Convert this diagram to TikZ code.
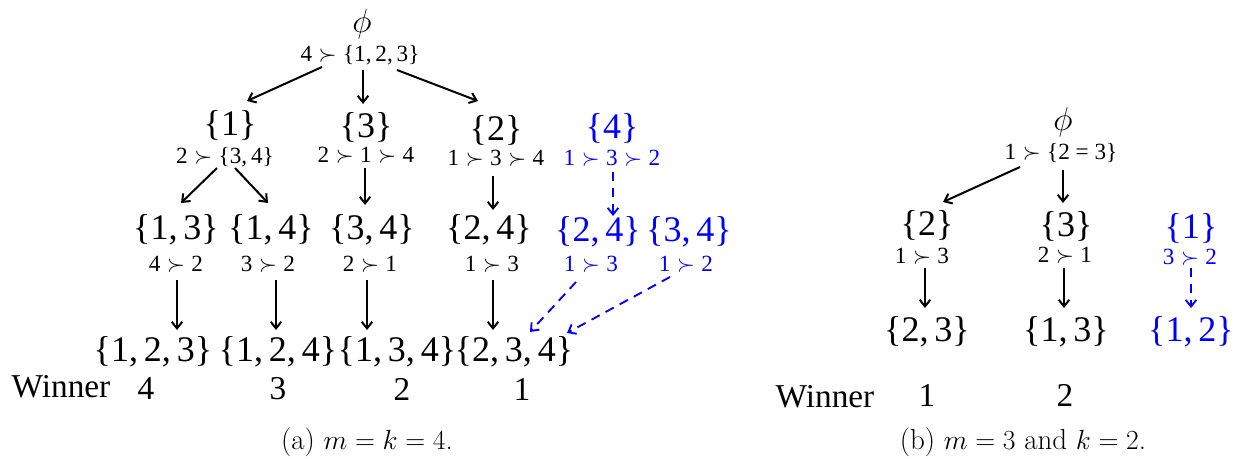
\documentclass[tikz,border=0pt]{standalone}
\usepackage{fontspec}
\usetikzlibrary{arrows.meta,calc}
\newfontfamily\tnr{Liberation Serif}
\newcommand{\pf}{\hspace{0.28em}$\succ$\hspace{0.28em}}
\begin{document}
\begin{tikzpicture}[x=0.75pt,y=-0.75pt,
  every node/.style={inner sep=0pt,outer sep=0pt},
  setn/.style={font=\tnr\fontsize{27}{27}\selectfont},
  labn/.style={font=\tnr\fontsize{17.4}{18}\selectfont},
  phin/.style={font=\fontsize{30}{30}\selectfont},
  winn/.style={font=\tnr\fontsize{25}{25}\selectfont},
  capn/.style={font=\fontsize{21.7}{24}\selectfont},
  hl/.style={text=blue},
  arr/.style={line width=1.5pt,-{Straight Barb[length=5pt,width=8pt]}},
  darr/.style={line width=1.4pt,blue,dash pattern=on 7pt off 5pt,-{Straight Barb[length=5pt,width=8pt]}}]
\useasboundingbox (0,0) rectangle (1245,459);
% ---------- tree (a) ----------
\node[phin] (phiA) at (362,24) {$\phi$};
\node[labn] (lA0) at (360,55) {4\pf\{1,\,2,\,3\}};
\node[setn] (sA1) at (230,125) {\{1\}};
\node[labn] (lA1) at (225,157) {2\pf\{3,\,4\}};
\node[setn] (sA3) at (366,127) {\{3\}};
\node[labn] (lA3) at (366,155) {2\pf 1\pf 4};
\node[setn] (sA2) at (496,130) {\{2\}};
\node[labn] (lA2) at (496,158) {1\pf 3\pf 4};
\node[setn,hl] (sA4) at (612,128) {\{4\}};
\node[labn,hl] (lA4) at (612,158) {1\pf 3\pf 2};
\node[setn] (s13) at (176,230) {\{1,\,3\}};
\node[labn] (l13) at (176,264) {4\pf 2};
\node[setn] (s14) at (271,230) {\{1,\,4\}};
\node[labn] (l14) at (268,264) {3\pf 2};
\node[setn] (s34) at (372,230) {\{3,\,4\}};
\node[labn] (l34) at (370,264) {2\pf 1};
\node[setn] (s24) at (489,230) {\{2,\,4\}};
\node[labn] (l24) at (492,264) {1\pf 3};
\node[setn,hl] (b24) at (598,232) {\{2,\,4\}};
\node[labn,hl] (lb24) at (591,264) {1\pf 3};
\node[setn,hl] (b34) at (689,232) {\{3,\,4\}};
\node[labn,hl] (lb34) at (686,264) {1\pf 2};
\node[setn] (s123) at (153,352) {\{1,\,2,\,3\}};
\node[setn] (s124) at (278,352) {\{1,\,2,\,4\}};
\node[setn] (s134) at (397,352) {\{1,\,3,\,4\}};
\node[setn] (s234) at (514,352) {\{2,\,3,\,4\}};
\node[winn] (winA) at (61,387) {Winner};
\node[winn] (wA4) at (146,389) {4};
\node[winn] (wA3) at (278,389) {3};
\node[winn] (wA2) at (402,389) {2};
\node[winn] (wA1) at (522,389) {1};
\node[capn] (capA) at (367,442) {(a) $m=k=4$.};
\draw[arr] ($(lA0)+(-38,12)$) -- ($(sA1)+(17,-24)$);
\draw[arr] ($(lA0)+(3,15)$) -- ($(sA3)+(-3,-23)$);
\draw[arr] ($(lA0)+(37,15)$) -- ($(sA2)+(-18,-29)$);
\draw[arr] ($(lA1)+(-8,11)$) -- ($(s13)+(5,-27)$);
\draw[arr] ($(lA1)+(10,11)$) -- ($(s14)+(-3,-27)$);
\draw[arr] ($(lA3)+(-1,13)$) -- ($(s34)+(-7,-25)$);
\draw[arr] ($(lA2)+(-3,18)$) -- ($(s24)+(4,-20)$);
\draw[darr] ($(lA4)+(1,14)$) -- ($(b24)+(15,-16)$);
\draw[arr] ($(l13)+(1,16)$) -- ($(s123)+(24,-22)$);
\draw[arr] ($(l14)+(8,16)$) -- ($(s124)+(-2,-22)$);
\draw[arr] ($(l34)+(-3,16)$) -- ($(s134)+(-30,-22)$);
\draw[arr] ($(l24)+(1,16)$) -- ($(s234)+(-21,-22)$);
\draw[darr] ($(lb24)+(-15,18)$) -- ($(s234)+(16,-20)$);
\draw[darr] ($(lb34)+(-16,13)$) -- ($(s234)+(53,-19)$);
% ---------- tree (b) ----------
\node[phin] (phiB) at (1063,122) {$\phi$};
\node[labn] (lB0) at (1061,153) {1\pf\{2 = 3\}};
\node[setn] (sB2) at (927,225) {\{2\}};
\node[labn] (lB2) at (922,256) {1\pf 3};
\node[setn] (sB3) at (1066,226) {\{3\}};
\node[labn] (lB3) at (1065,255) {2\pf 1};
\node[setn,hl] (sB1) at (1191,228) {\{1\}};
\node[labn,hl] (lB1) at (1190,257) {3\pf 2};
\node[setn] (s23) at (927,332) {\{2,\,3\}};
\node[setn] (s13b) at (1066,332) {\{1,\,3\}};
\node[setn,hl] (s12b) at (1191,332) {\{1,\,2\}};
\node[winn] (winB) at (825,397) {Winner};
\node[winn] (wB1) at (927,395) {1};
\node[winn] (wB2) at (1065,395) {2};
\node[capn] (capB) at (1023,442) {(b) $m=3$ and $k=2$.};
\draw[arr] ($(lB0)+(-41,14)$) -- ($(sB2)+(16,-23)$);
\draw[arr] ($(lB0)+(2,17)$) -- ($(sB3)+(-3,-23)$);
\draw[arr] ($(lB2)+(3,12)$) -- ($(s23)+(-2,-24)$);
\draw[arr] ($(lB3)+(-1,13)$) -- ($(s13b)+(-2,-24)$);
\draw[darr] ($(lB1)+(1,11)$) -- ($(s12b)+(0,-24)$);
\end{tikzpicture}
\end{document}
